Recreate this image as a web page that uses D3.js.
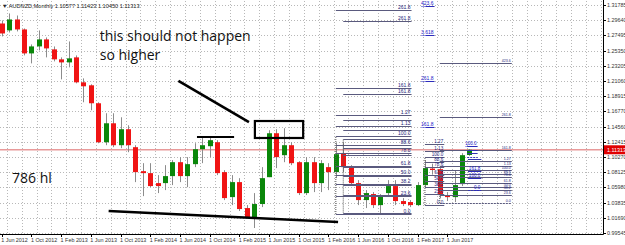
<!DOCTYPE html>
<html lang="en">
<head>
<meta charset="UTF-8">
<title>AUDNZD Monthly</title>
<script src="https://cdnjs.cloudflare.com/ajax/libs/d3/7.8.5/d3.min.js"></script>
<style>
  body { margin: 0; background: #fff; }
  svg { display: block; font-family: "Liberation Sans", Arial, sans-serif; }
</style>
</head>
<body>
<svg width="625" height="245"></svg>
<script>
// monthly candles, first bar = Jun 2012
const opens  = [1.2917,1.2819,1.2974,1.2833,1.2494,1.2593,1.2692,1.2551,1.2410,1.2367,1.2438,1.2085,1.2043,1.1789,1.1238,1.1506,
                1.1196,1.1422,1.1168,1.0829,1.0801,1.0660,1.0660,1.0759,1.0956,1.0759,1.0928,1.1140,1.1182,1.1238,1.0815,1.0462,
                1.0674,1.0307,1.0180,1.0364,1.0744,1.1365,1.1055,1.1196,1.0956,1.0519,1.0956,1.0660,1.0886,1.0815,1.1083,1.0886,
                1.0660,1.0420,1.0505,1.0349,1.0519,1.0618,1.0406,1.0392,1.0349,1.0632,1.0865,1.0857,1.0491,1.0462,1.0646,1.10577];
const highs  = [1.2960,1.3059,1.3030,1.2847,1.2621,1.2819,1.2720,1.2593,1.2438,1.2663,1.2466,1.2141,1.2057,1.1803,1.1648,1.1648,
                1.1591,1.1478,1.1196,1.0942,1.0942,1.0773,1.0914,1.0985,1.1027,1.1027,1.1224,1.1309,1.1309,1.1267,1.0843,1.0773,
                1.0730,1.0349,1.0519,1.0886,1.1408,1.1422,1.1436,1.1238,1.0970,1.1027,1.1027,1.0985,1.0942,1.1224,1.1238,1.0914,
                1.0702,1.0561,1.0533,1.0505,1.0702,1.0702,1.0448,1.0420,1.0674,1.0985,1.0935,1.0886,1.0533,1.0843,1.1083,1.11423];
const lows   = [1.2734,1.2790,1.2805,1.2466,1.2353,1.2537,1.2438,1.2381,1.2127,1.2297,1.2071,1.1803,1.1690,1.1224,1.1196,1.1168,
                1.1154,1.1097,1.0674,1.0476,1.0603,1.0519,1.0561,1.0632,1.0674,1.0603,1.0886,1.0942,1.1027,1.0773,1.0420,1.0349,
                1.0265,1.0166,1.0025,1.0321,1.0744,1.0872,1.0956,1.0914,1.0491,1.0491,1.0533,1.0533,1.0561,1.0730,1.0815,1.0632,
                1.0349,1.0307,1.0307,1.0236,1.0476,1.0349,1.0335,1.0321,1.0335,1.0603,1.0780,1.0448,1.0406,1.0392,1.0618,1.10450];
const closes = [1.2776,1.2974,1.2833,1.2494,1.2593,1.2692,1.2565,1.2410,1.2367,1.2424,1.2085,1.2029,1.1789,1.1238,1.1506,1.1196,
                1.1422,1.1196,1.0815,1.0801,1.0618,1.0618,1.0759,1.0956,1.0759,1.0928,1.1140,1.1196,1.1267,1.0801,1.0448,1.0674,
                1.0293,1.0180,1.0364,1.0730,1.1365,1.1027,1.1196,1.0942,1.0519,1.0956,1.0660,1.0942,1.0815,1.1069,1.0886,1.0660,
                1.0420,1.0519,1.0349,1.0476,1.0618,1.0406,1.0364,1.0349,1.0632,1.0872,1.0845,1.0491,1.0462,1.0632,1.1055,1.11313];

const firstMonth = new Date(2012, 5, 1);
const monthCount = 82;
const timeLabelStep = 4;
const lastTimeLabel = 60;

const priceTicks = ["1.31785","1.29640","1.27495","1.25350","1.23205","1.21060","1.18915","1.16770",
                    "1.14560","1.12415","1.10270","1.08125","1.05980","1.03835","1.01690","0.99545"];
const lastPrice = 1.11313;
const titleText = "\u25BC AUDNZD,Monthly  1.10577 1.11423 1.10450 1.11313";

// fibonacci objects left on the chart
const fibRatios = [0, 23.6, 38.2, 50, 61.8, 78.6, 88.6, 100, 113, 127, 161.8, 261.8, 361.8, 423.6];
const fibNames  = ["0.0","23.6","38.2","50.0","61.8","78.6","88.6","100.0","1.13","1.27","161.8","261.8","3.618","423.6"];
const retrace   = [0, 23.6, 38.2, 50, 61.8, 78.6, 88.6, 100, 113, 127];
const fibSets = [
  {from: 45,   to: 55.2, p0: 1.0223, p100: 1.1326, levels: retrace.concat([161.8, 261.8]), shown: retrace.concat([161.8, 261.8]), blue: false, anchor: true, size: 5},
  {from: 46,   to: 55.2, p0: 1.0243, p100: 1.1279, levels: retrace.concat([161.8, 261.8]), shown: [161.8, 261.8], blue: false, anchor: true, size: 5},
  {from: 57,   to: 59.6, p0: 1.0350, p100: 1.1029, levels: retrace, shown: retrace, blue: false, anchor: true, size: 4.6},
  {from: 57.1, to: 58.3, p0: 1.0401, p100: 1.1052, levels: [161.8, 261.8, 361.8, 423.6], shown: [161.8, 261.8, 361.8, 423.6], blue: true, anchor: false, size: 5},
  {from: 59,   to: 68.7, p0: 1.0379, p100: 1.0845, levels: retrace.concat([161.8, 261.8, 423.6]), shown: retrace.concat([161.8, 261.8, 423.6]), blue: false, anchor: true, size: 3.6},
  {from: 62.8, to: 64.6, p0: 1.0562, p100: 1.0732, levels: [0, 100, 161.8, 261.8], shown: [0, 100, 161.8], blue: true, anchor: false, size: 4.6},
  {from: 62.7, to: 64.1, p0: 1.1029, p100: 1.1185, levels: [0, 38.2, 61.8, 100], shown: [100], blue: true, anchor: false, size: 4.6}
];

// hand-drawn marks: [monthIndex, price]
const slashLine  = [[23.8, 1.2104], [33.3, 1.1524]];
const lowLine    = [[14.4, 1.0266], [45.3, 1.0110]];
const topLine    = [[26.3, 1.1312], [31.3, 1.1312]];
const topBox     = [[34.1, 1.1538], [40.6, 1.1298]];
const notes = [
  {text: "this should not happen", i: 13.2, p: 1.2669},
  {text: "so higher", i: 13.2, p: 1.2401},
  {text: "786 hl", i: 1.4, p: 1.0662}
];

const svg = d3.select("svg");
const W = 625, plotRight = 603, plotTop = 1, plotBottom = 234;

const months = d3.range(monthCount).map(i => d3.timeMonth.offset(firstMonth, i));
const x = d3.scaleLinear().domain([0, monthCount - 1]).range([1.7, 1.7 + 7.425 * (monthCount - 1)]);
const y = d3.scaleLinear().domain([+priceTicks[priceTicks.length - 1], +priceTicks[0]]).range([233, 5]);
const fmt = d3.timeFormat("%-d %b %Y");

svg.append("defs").append("clipPath").attr("id", "plot")
  .append("rect").attr("x", 0).attr("y", plotTop).attr("width", plotRight).attr("height", plotBottom - plotTop);

const plot = svg.append("g").attr("clip-path", "url(#plot)");

// grid
plot.append("g").selectAll("line").data(priceTicks).enter().append("line")
  .attr("x1", 0).attr("x2", plotRight)
  .attr("y1", d => Math.round(y(+d)) + 0.5).attr("y2", d => Math.round(y(+d)) + 0.5)
  .attr("stroke", "#b8b8b8").attr("stroke-dasharray", "1,2");
plot.append("g").selectAll("line").data(d3.range(1, monthCount, 2)).enter().append("line")
  .attr("x1", d => Math.round(x(d) - 2.3) + 0.5).attr("x2", d => Math.round(x(d) - 2.3) + 0.5)
  .attr("y1", plotTop).attr("y2", plotBottom)
  .attr("stroke", "#b8b8b8").attr("stroke-dasharray", "1,2");

// bid line
plot.append("line")
  .attr("x1", 0).attr("x2", plotRight)
  .attr("y1", y(lastPrice)).attr("y2", y(lastPrice))
  .attr("stroke", "#e89a9a").attr("stroke-width", 1.6);

// candles
const bars = d3.range(opens.length);
const candles = plot.append("g");
candles.selectAll("line").data(bars).enter().append("line")
  .attr("x1", i => Math.round(x(i)) + 0.5).attr("x2", i => Math.round(x(i)) + 0.5)
  .attr("y1", i => y(highs[i])).attr("y2", i => y(lows[i]))
  .attr("stroke", "#8c8c8c");
candles.selectAll("rect").data(bars).enter().append("rect")
  .attr("x", i => Math.round(x(i)) - 2)
  .attr("width", 5)
  .attr("y", i => y(Math.max(opens[i], closes[i])))
  .attr("height", i => Math.max(1.2, Math.abs(y(opens[i]) - y(closes[i]))))
  .attr("fill", i => closes[i] >= opens[i] ? "#0a870a" : "#f01414");

// fibonacci levels
fibSets.forEach(s => {
  const g = plot.append("g");
  const lvY = r => y(s.p0 + (s.p100 - s.p0) * r / 100);
  const top = d3.max(s.levels);
  if (s.anchor) {
    g.append("line")
      .attr("x1", x(s.from)).attr("x2", x(s.from))
      .attr("y1", y(s.p0)).attr("y2", lvY(Math.min(top, 100)))
      .attr("stroke", "#555").attr("stroke-dasharray", "1,1");
  }
  g.selectAll("line.lv").data(s.levels).enter().append("line").attr("class", "lv")
    .attr("x1", x(s.from)).attr("x2", x(s.to))
    .attr("y1", r => Math.round(lvY(r)) + 0.5).attr("y2", r => Math.round(lvY(r)) + 0.5)
    .attr("stroke", s.blue ? "#3434b0" : "#5a5a7e")
    .attr("stroke-dasharray", r => r === 0 && s.from > 58 ? "2,1" : null);
  g.selectAll("text").data(s.shown).enter().append("text")
    .attr("x", x(s.to) - 1).attr("y", r => Math.round(lvY(r)) - 0.6)
    .attr("text-anchor", "end")
    .attr("font-size", s.size)
    .attr("fill", s.blue ? "#2020c8" : "#25257a")
    .attr("text-decoration", s.blue ? "underline" : null)
    .text(r => fibNames[fibRatios.indexOf(r)]);
});

// hand-drawn marks
const line = d3.line().x(d => x(d[0])).y(d => y(d[1]));
[slashLine, lowLine].forEach(pts => {
  plot.append("path").attr("d", line(pts)).attr("fill", "none").attr("stroke", "#000").attr("stroke-width", 2.6);
});
plot.append("path").attr("d", line(topLine)).attr("fill", "none").attr("stroke", "#000").attr("stroke-width", 2.2);
plot.append("rect")
  .attr("x", x(topBox[0][0])).attr("y", y(topBox[0][1]))
  .attr("width", x(topBox[1][0]) - x(topBox[0][0]))
  .attr("height", y(topBox[1][1]) - y(topBox[0][1]))
  .attr("fill", "none").attr("stroke", "#000").attr("stroke-width", 2.2);

plot.selectAll("text.note").data(notes).enter().append("text").attr("class", "note")
  .attr("x", d => x(d.i)).attr("y", d => y(d.p))
  .attr("font-family", "'Open Sans', sans-serif")
  .attr("font-size", 14)
  .attr("fill", "#111")
  .text(d => d.text);

// title
svg.append("text").attr("x", 2).attr("y", 7.5)
  .attr("font-size", 5.6).attr("fill", "#222")
  .text(titleText);

// frame
svg.append("line").attr("x1", plotRight + 0.5).attr("x2", plotRight + 0.5)
  .attr("y1", 0).attr("y2", plotBottom + 0.5).attr("stroke", "#000");
svg.append("line").attr("x1", 0).attr("x2", plotRight + 0.5)
  .attr("y1", plotBottom + 0.5).attr("y2", plotBottom + 0.5).attr("stroke", "#000");

// price axis
const pAxis = svg.append("g");
pAxis.selectAll("line").data(priceTicks).enter().append("line")
  .attr("x1", plotRight).attr("x2", plotRight + 3)
  .attr("y1", d => Math.round(y(+d)) + 0.5).attr("y2", d => Math.round(y(+d)) + 0.5)
  .attr("stroke", "#000");
pAxis.selectAll("text").data(priceTicks).enter().append("text")
  .attr("x", plotRight + 4).attr("y", d => y(+d) + 2)
  .attr("font-size", 5.4).attr("fill", "#333")
  .text(d => d);
pAxis.append("rect")
  .attr("x", plotRight + 1).attr("y", y(lastPrice) - 4.5)
  .attr("width", W - plotRight - 1).attr("height", 9)
  .attr("fill", "#e00000");
pAxis.append("text")
  .attr("x", plotRight + 4).attr("y", y(lastPrice) + 2)
  .attr("font-size", 5.4).attr("fill", "#fff")
  .text(lastPrice.toFixed(5));

// time axis
const tAxis = svg.append("g");
const labelIdx = d3.range(0, lastTimeLabel + 1, timeLabelStep);
tAxis.selectAll("line").data(labelIdx).enter().append("line")
  .attr("x1", i => Math.round(x(i)) + 0.5).attr("x2", i => Math.round(x(i)) + 0.5)
  .attr("y1", plotBottom).attr("y2", plotBottom + 3)
  .attr("stroke", "#000");
tAxis.selectAll("text").data(labelIdx).enter().append("text")
  .attr("x", i => x(i) - 0.5).attr("y", 241.5)
  .attr("font-size", 5.4).attr("fill", "#333")
  .text(i => fmt(months[i]));
</script>
</body>
</html>
